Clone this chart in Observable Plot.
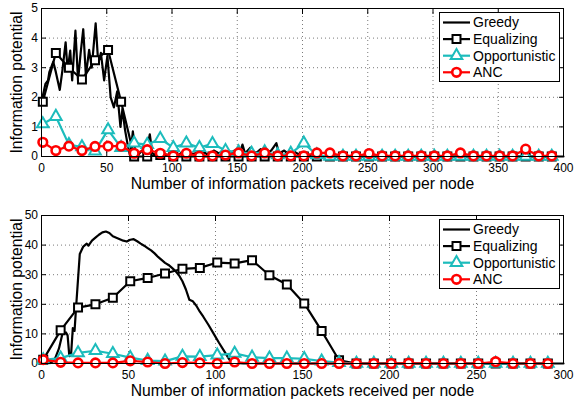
<!DOCTYPE html>
<html><head><meta charset="utf-8">
<script src="https://cdn.jsdelivr.net/npm/d3@7"></script>
<script src="https://cdn.jsdelivr.net/npm/@observablehq/plot@0.6"></script>
<style>
body{margin:0;background:#fff;font-family:"Liberation Sans",Arial,sans-serif;}
#wrap{position:relative;width:574px;height:402px;overflow:hidden;}
.panel{position:absolute;left:0;}
.legend{position:absolute;}
</style></head><body><div id="wrap"></div>
<script>
// ---------- data ----------
const seriesNames = ["Greedy", "Equalizing", "Opportunistic", "ANC"];
const seriesColors = ["#000000", "#000000", "#1cbcbc", "#ff0000"];
const seriesSymbols = [null, "square", "triangle", "circle"];
const xLabel = "Number of information packets received per node";
const yLabel = "Information potential";

// top panel
const topXTicks = [0, 50, 100, 150, 200, 250, 300, 350, 400];
const topYTicks = [0, 1, 2, 3, 4, 5];
const topGreedyX = [0,3,5,6,9,11,14,16,18.5,20,22,23.5,26,28,30,32,34,36.5,38.5,41.5,43.5,45.5,48,50.5,53,55.5,58,60.5,62,64,66,68,70,72,74,77,80,83,85,88,92,96,100,104,108,112,116,120,124,128,132,136,140,144,148,152,154,156,160,164,168,172,176,180,182,186,190,194,198,202,206,210,214,220,230,250,300,350,400];
const topGreedyY = [1.85,2.45,2.57,2.85,3.2,2.85,2.25,2.9,3.86,2.9,3.58,2.57,4.25,2.57,3.5,4.3,2.73,3.6,3.0,4.5,3.13,3.5,2.57,3.4,2.0,1.66,2.2,1.0,1.6,0.9,0.4,0,0.85,0.1,0.05,0.2,0.05,0.75,0.1,0.05,0.15,0.05,0.1,0.02,0.15,0.05,0.1,0.02,0.15,0.05,0.2,0.1,0.25,0.1,0.2,0.1,0.4,0.1,0.3,0.1,0.25,0.1,0.2,0.45,0.1,0.2,0.05,0.15,0.05,0.1,0.05,0.1,0.02,0,0,0,0,0,0];
const topMarkX = [1,11,21,31,41,51,61,71,81,91,101,111,121,131,141,151,161,171,181,191,201,211,221,231,241,251,261,271,281,291,301,311,321,331,341,351,361,371,381,391];
const topEqualizing = [1.85,3.5,3.0,2.6,3.25,3.6,1.85,0,0,0.05,0,0,0,0,0,0,0,0,0,0,0,0,0,0,0,0,0,0,0,0,0,0,0,0,0,0,0,0,0,0];
const topOpportunistic = [1.1,1.35,0.4,0.32,0.18,0.9,0.3,0.45,0.4,0.6,0.3,0.45,0.3,0.43,0.2,0.15,0.1,0.15,0.05,0.1,0.45,0.05,0,0,0,0,0,0,0,0,0,0,0,0,0,0,0,0,0,0];
const topANC = [0.48,0.2,0.35,0.2,0.34,0.35,0.35,0.11,0.23,0.11,0.02,0.11,0.01,0.02,0.05,0.12,0.02,0.12,0.02,0.02,0.02,0.12,0.12,0.02,0.02,0.1,0.02,0.02,0.02,0.02,0.02,0.02,0.12,0.02,0.02,0.02,0.02,0.25,0.02,0.02];

// bottom panel
const botXTicks = [0, 50, 100, 150, 200, 250, 300];
const botYTicks = [0, 10, 20, 30, 40, 50];
const botGreedyX = [0,3,6,8,10,12,14,15,16,17,18,19,20,22,24,26,27,29,31,33,35,37,39,41,43,45,47,49,51,53,55,57,59,61,63,65,67,69,71,73,75,77,79,81,83,85,87,89,91,93,96,99,102,105,108,112,116,150,200,250,300];
const botGreedyY = [0.3,0.2,0.5,2,5,10,10.5,9.5,2.5,3,12,11,20,37,39.5,40.5,39.8,41.5,42.5,43.5,44.3,44.6,44.1,43,42.5,42,41.5,41.2,41.8,42,41.3,40.5,39.8,39,38.2,37.2,36,35,34,33.3,32.3,31.2,29.8,27.8,25,21.5,21,19.5,17.5,15.8,13,10,7,4.2,1.3,0.2,0,0,0,0,0];
const botMarkX = [1,11,21,31,41,51,61,71,81,91,101,111,121,131,141,151,161,171,181,191,201,211,221,231,241,251,261,271,281,291];
const botEqualizing = [1.3,11.2,18.9,20,22.2,27.8,28.9,30.4,32,32.3,34.1,33.8,34.9,29.8,26.7,20.3,11,1.1,0,0,0,0,0,0,0,0,0,0,0,0];
const botOpportunistic = [1.2,1.8,3.6,4.3,3.3,2,1,0.8,2.4,2.3,2.8,3.4,2.1,1.8,1.8,1.6,0.8,0.3,0,0,0,0,0,0,0,0,0,0,0,0];
const botANC = [1.3,0.4,0.2,0.2,0.2,0.9,0.5,0,0.3,0.2,0,0.5,0,0,0,0,0,0,0,0,0,0.1,0,0,0,0,0.6,0,0,0];

// ---------- drawing ----------
const FONT = '"Liberation Sans", Arial, sans-serif';
const symR = {square: 4.5, triangle: 4.3, circle: 4.3};
const symSW = {square: 2, triangle: 2, circle: 2.6};

function makePanel({xDomain, xTicks, yDomain, yTicks, marginTop, marginBottom, gx, gy, mx, series}) {
  const greedy = gx.map((x, i) => ({x, y: gy[i]}));
  const marks = [
    Plot.gridX(xTicks, {stroke: "#7a7a7a", strokeOpacity: 1, strokeDasharray: "1,3"}),
    Plot.gridY(yTicks, {stroke: "#7a7a7a", strokeOpacity: 1, strokeDasharray: "1,3"}),
    Plot.axisX(xTicks, {anchor: "bottom", tickSize: -5, tickPadding: 12, label: null, fontSize: 12}),
    Plot.axisX(xTicks, {anchor: "top", tickSize: -5, text: null, label: null}),
    Plot.axisY(yTicks, {anchor: "left", tickSize: -5, tickPadding: 8.5, label: null, fontSize: 12}),
    Plot.axisY(yTicks, {anchor: "right", tickSize: -5, text: null, label: null}),
    Plot.line(greedy, {x: "x", y: "y", stroke: seriesColors[0], strokeWidth: 2.2})
  ];
  series.forEach((vals, k) => {
    const idx = k + 1;
    const data = mx.map((x, i) => ({x, y: vals[i]}));
    const sym = seriesSymbols[idx];
    marks.push(Plot.line(data, {x: "x", y: "y", stroke: seriesColors[idx], strokeWidth: 2.2}));
    marks.push(Plot.dot(data, {x: "x", y: "y", symbol: sym, r: symR[sym], stroke: seriesColors[idx], fill: "white", strokeWidth: symSW[sym]}));
  });
  marks.push(Plot.frame({stroke: "black", strokeWidth: 1}));
  marks.push(Plot.text([xLabel], {text: d => d, frameAnchor: "bottom", dy: 21, lineAnchor: "top", textAnchor: "middle", fontSize: 15.7}));
  marks.push(Plot.text([yLabel], {text: d => d, frameAnchor: "left", dx: -24.5, rotate: -90, textAnchor: "middle", lineAnchor: "middle", fontSize: 15.7}));
  return Plot.plot({
    width: 574, height: 201,
    marginLeft: 41, marginRight: 11, marginTop, marginBottom,
    style: {fontFamily: FONT, fontSize: "12px", color: "black", background: "white", overflow: "visible"},
    x: {domain: xDomain},
    y: {domain: yDomain},
    marks
  });
}

function makeLegend(left, top) {
  const w = 121, h = 70;
  const svg = d3.create("svg").attr("width", w).attr("height", h)
    .attr("class", "legend")
    .style("left", left + "px").style("top", top + "px");
  svg.append("rect").attr("x", 0.5).attr("y", 0.5).attr("width", w - 1).attr("height", h - 1)
    .attr("fill", "white").attr("stroke", "black").attr("stroke-width", 1);
  seriesNames.forEach((name, i) => {
    const y = 10.5 + 16.6 * i;
    const g = svg.append("g");
    g.append("line").attr("x1", 4).attr("x2", 31).attr("y1", y).attr("y2", y)
      .attr("stroke", seriesColors[i]).attr("stroke-width", 2.2);
    const sym = seriesSymbols[i];
    if (sym) {
      const type = {square: d3.symbolSquare, triangle: d3.symbolTriangle, circle: d3.symbolCircle}[sym];
      const r = symR[sym];
      g.append("path").attr("d", d3.symbol(type, r * r * Math.PI)())
        .attr("transform", `translate(17.5,${y})`)
        .attr("fill", "white").attr("stroke", seriesColors[i]).attr("stroke-width", symSW[sym]);
    }
    g.append("text").attr("x", 34).attr("y", y).attr("dy", "0.35em")
      .attr("font-family", FONT).attr("font-size", 14).attr("fill", "black").text(name);
  });
  return svg.node();
}

const wrap = document.getElementById("wrap");
const p1 = makePanel({xDomain: [0, 400], xTicks: topXTicks, yDomain: [0, 5], yTicks: topYTicks,
  marginTop: 8, marginBottom: 45, gx: topGreedyX, gy: topGreedyY, mx: topMarkX,
  series: [topEqualizing, topOpportunistic, topANC]});
p1.classList.add("panel"); p1.style.top = "0px";
const p2 = makePanel({xDomain: [0, 300], xTicks: botXTicks, yDomain: [0, 50], yTicks: botYTicks,
  marginTop: 14, marginBottom: 39, gx: botGreedyX, gy: botGreedyY, mx: botMarkX,
  series: [botEqualizing, botOpportunistic, botANC]});
p2.classList.add("panel"); p2.style.top = "201px";
wrap.appendChild(p1);
wrap.appendChild(p2);
wrap.appendChild(makeLegend(439, 12));
wrap.appendChild(makeLegend(439, 219));
</script>
</body></html>
